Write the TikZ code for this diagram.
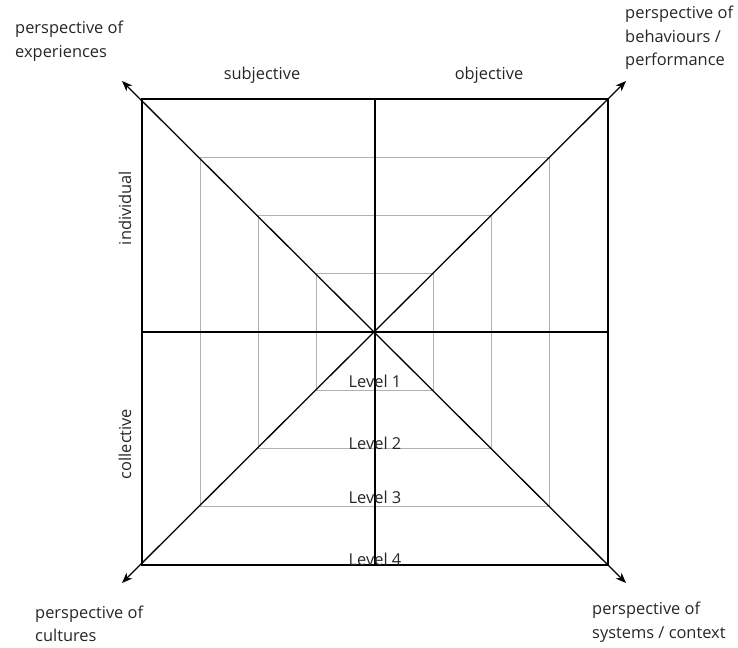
\documentclass[tikz,border=0pt]{standalone}
\usepackage{fontspec}
\setmainfont{Open Sans}
\usetikzlibrary{arrows.meta,calc}
\tikzset{
  frame/.style={line width=1.8pt, black},
  ring/.style={line width=0.8pt, gray!60},
  diag/.style={line width=1.1pt, black, {Stealth[length=9pt,width=7pt]}-{Stealth[length=9pt,width=7pt]}},
  lbl/.style={inner sep=0pt, text=black!85, font=\fontsize{14}{20}\selectfont},
  persp/.style={lbl, anchor=west, align=left},
  lvl/.style={lbl, anchor=base}
}
\begin{document}
\begin{tikzpicture}[x=0.03cm, y=-0.03cm]
\useasboundingbox (0,0) rectangle (738,647);
\coordinate (c) at (375,332);
% level squares
\foreach \r in {58.25,116.5,174.75}
  \draw[ring] ($(c)+(-\r,-\r)$) rectangle ($(c)+(\r,\r)$);
\coordinate (tl) at (122,81);
\coordinate (tr) at (626,81);
\coordinate (bl) at (122,583);
\coordinate (br) at (626,583);
\draw[diag] (tl) -- (br);
\draw[diag] (bl) -- (tr);
\draw[frame] (142,99) rectangle (608,565);
\coordinate (top) at (375,99);
\coordinate (bot) at (375,565);
\coordinate (lft) at (142,332);
\coordinate (rgt) at (608,332);
\draw[frame] (top) -- (bot);
\draw[frame] (lft) -- (rgt);
% labels
\node[lbl] (subj) at (262,75) {subjective};
\node[lbl] (obj) at (489,75) {objective};
\node[lbl, rotate=90] (indiv) at (125,208) {individual};
\node[lbl, rotate=90] (coll) at (125,444) {collective};
\node[persp] (pexp) at (15,41) {perspective of\\experiences};
\node[persp] (pbeh) at (625,38) {perspective of\\behaviours /\\performance};
\node[persp] (pcul) at (35,624) {perspective of\\cultures};
\node[persp] (psys) at (592,622) {perspective of\\systems / context};
\foreach \n/\y in {1/387,2/449,3/503,4/565}
  \node[lvl] (lv\n) at (375,\y) {Level \n};
\end{tikzpicture}
\end{document}
